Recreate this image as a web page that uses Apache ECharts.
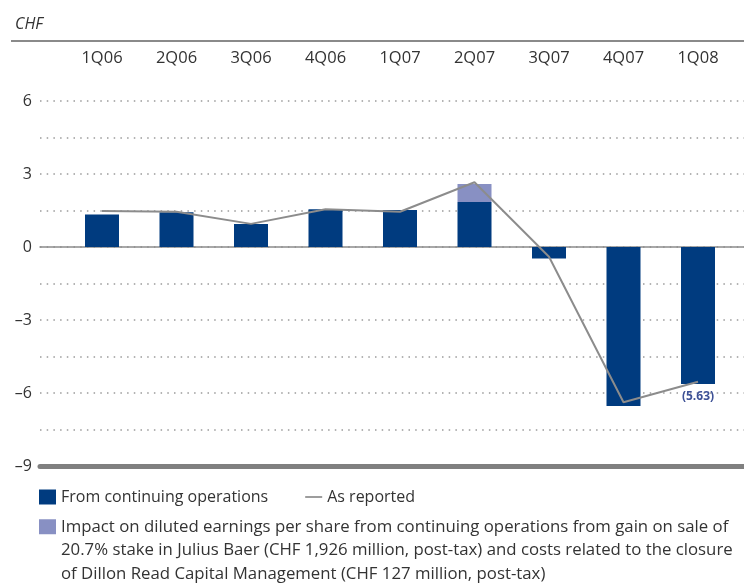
<!DOCTYPE html>
<html><head><meta charset="utf-8">
<script src="https://cdn.jsdelivr.net/npm/echarts@6/dist/echarts.min.js"></script>
<style>html,body{margin:0;padding:0;background:#fff}#c{width:744px;height:586px}</style>
</head><body><div id="c"></div>
<script>
// ---- data ----
const categories = ['1Q06','2Q06','3Q06','4Q06','1Q07','2Q07','3Q07','4Q07','1Q08'];
const continuingOps = [1.34, 1.43, 0.95, 1.55, 1.52, 1.85, -0.47, -6.53, -5.63];
const juliusBaerImpact = ['-', '-', '-', '-', '-', 0.74, '-', '-', '-'];
const asReported = [1.48, 1.45, 0.95, 1.55, 1.45, 2.66, -0.40, -6.38, -5.54];
const yMin = -9, yMax = 6, yStep = 1.5, yLabelEvery = 3;
const labelledIndex = 8;

const nameBar = 'From continuing operations';
const nameLine = 'As reported';
const nameImpact = 'Impact on diluted earnings per share from continuing operations from gain on sale of\n20.7% stake in Julius Baer (CHF 1,926 million, post-tax) and costs related to the closure\nof Dillon Read Capital Management (CHF 127 million, post-tax)';

const FONT = 'Open Sans';
const TXT = '#333333';
const DARK = '#003b7f';
const LIGHT = '#8890c3';
const LINEC = '#8c8c8c';

const chart = echarts.init(document.getElementById('c'), null, {renderer: 'canvas'});

const barData = continuingOps.map((v, i) => i === labelledIndex ? {
  value: v,
  label: {
    show: true, position: 'bottom', distance: 7,
    formatter: p => (p.value < 0 ? '(' + Math.abs(p.value).toFixed(2) + ')' : p.value.toFixed(2)),
    color: '#3d5196', fontSize: 12, fontWeight: 'bold', fontFamily: FONT
  }
} : v);

const option = {
  animation: false,
  backgroundColor: '#ffffff',
  title: {
    text: 'CHF', left: 10, top: 11,
    textStyle: {fontFamily: FONT, fontStyle: 'italic', fontWeight: 'normal', fontSize: 16, color: TXT}
  },
  graphic: [{
    type: 'line', shape: {x1: 11, y1: 41, x2: 744, y2: 41},
    style: {stroke: '#8a8a8a', lineWidth: 2}
  }],
  grid: [
    {left: 40, right: 0, top: 101, bottom: 120},
    {left: 64.75, right: 8.75, top: 101, bottom: 120}
  ],
  xAxis: [
    {gridIndex: 0, type: 'value', min: 0, max: 1, position: 'bottom',
     axisLine: {show: true, onZero: false, lineStyle: {color: '#808080', width: 5}},
     axisTick: {show: false}, axisLabel: {show: false}, splitLine: {show: false}},
    {gridIndex: 0, type: 'value', min: 0, max: 1, position: 'top',
     axisLine: {show: true, onZero: true, lineStyle: {color: '#8c8c8c', width: 1.5}},
     axisTick: {show: false}, axisLabel: {show: false}, splitLine: {show: false}},
    {gridIndex: 1, type: 'category', data: categories, position: 'top',
     axisLine: {show: false}, axisTick: {show: false},
     axisLabel: {margin: 34, fontSize: 16.5, color: TXT, fontFamily: FONT}}
  ],
  yAxis: [
    {gridIndex: 0, type: 'value', min: yMin, max: yMax, interval: yStep,
     axisLine: {show: false}, axisTick: {show: false},
     axisLabel: {
       margin: 8, fontSize: 16, color: TXT, fontFamily: FONT,
       formatter: v => (Math.abs(v % yLabelEvery) < 1e-9 ? (v < 0 ? '\u2013' + Math.abs(v) : String(v)) : '')
     },
     splitLine: {show: true, lineStyle: {color: '#9a9a9a', width: 1.5, type: [1.5, 5.2]}}},
    {gridIndex: 1, type: 'value', min: yMin, max: yMax, interval: yStep, show: false}
  ],
  legend: [
    {
      data: [{name: nameBar, icon: 'rect'}, {name: nameLine, icon: 'path://M0,0H20V2H0Z'}],
      left: 39, top: 489, padding: 0, itemWidth: 17, itemHeight: 15, itemGap: 37,
      selectedMode: false,
      textStyle: {fontSize: 16, color: TXT, fontFamily: FONT}
    },
    {
      data: [{name: nameImpact, icon: 'rect'}],
      formatter: n => '\n\n' + n,
      left: 39, top: 468, padding: 0, itemWidth: 17, itemHeight: 15,
      selectedMode: false,
      textStyle: {fontSize: 16.8, color: TXT, fontFamily: FONT, lineHeight: 23.5}
    }
  ],
  series: [
    {name: nameBar, type: 'bar', xAxisIndex: 2, yAxisIndex: 1, stack: 'eps',
     barWidth: 34, itemStyle: {color: DARK}, data: barData, z: 2},
    {name: nameImpact, type: 'bar', xAxisIndex: 2, yAxisIndex: 1, stack: 'eps',
     barWidth: 34, itemStyle: {color: LIGHT}, data: juliusBaerImpact, z: 2},
    {name: nameLine, type: 'line', xAxisIndex: 2, yAxisIndex: 1,
     symbol: 'none', itemStyle: {color: LINEC}, lineStyle: {color: LINEC, width: 2},
     data: asReported, z: 5}
  ]
};
chart.setOption(option);
</script>
</body></html>
